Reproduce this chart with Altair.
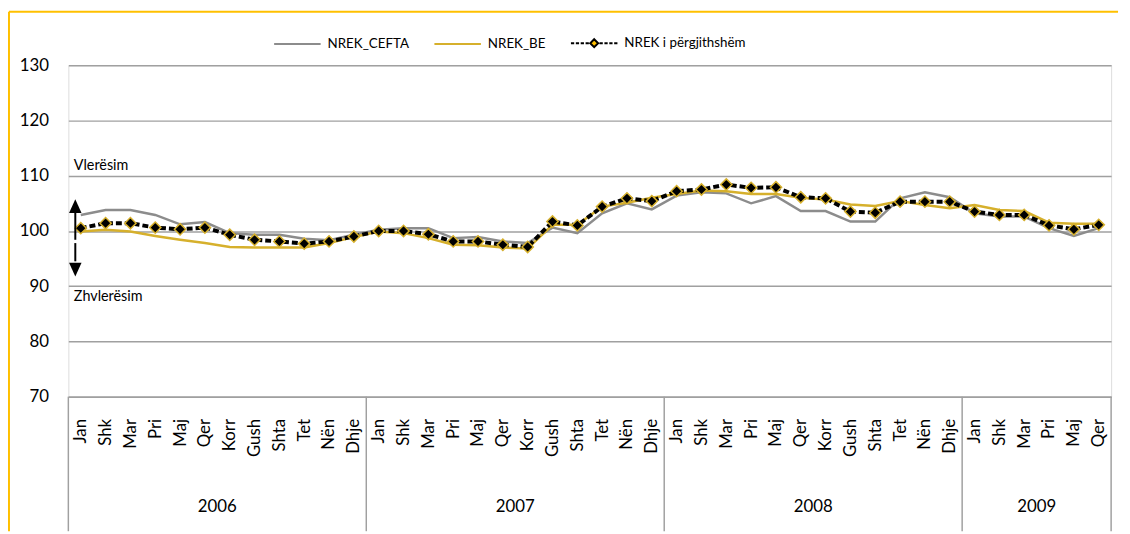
import altair as alt
import pandas as pd

# ---------------- data ----------------
months = ['Jan', 'Shk', 'Mar', 'Pri', 'Maj', 'Qer', 'Korr', 'Gush', 'Shta', 'Tet', 'Nën', 'Dhje']
years = ['2006', '2007', '2008', '2009']
year_months = [12, 12, 12, 6]

nrek_cefta = [102.9, 103.8, 103.8, 102.9, 101.2, 101.6, 99.6, 99.3, 99.3, 98.6, 98.3, 99.3,
              100.2, 100.5, 100.5, 98.7, 98.9, 98.1, 97.8, 100.6, 99.6, 103.2, 105.0, 103.9,
              106.4, 107.0, 106.8, 105.0, 106.3, 103.6, 103.6, 101.7, 101.7, 105.9, 107.0, 106.1,
              103.2, 102.6, 102.6, 100.5, 99.1, 100.5]
nrek_be = [99.9, 100.2, 99.9, 99.1, 98.4, 97.8, 97.1, 97.0, 97.0, 97.0, 97.8, 98.9,
           99.9, 99.6, 98.7, 97.5, 97.4, 97.0, 96.8, 101.1, 101.1, 104.4, 105.1, 106.0,
           106.7, 107.3, 107.2, 106.7, 106.7, 106.0, 105.7, 104.8, 104.5, 105.4, 104.7, 104.1,
           104.7, 103.8, 103.6, 101.5, 101.3, 101.3]
nrek_total = [100.5, 101.4, 101.4, 100.6, 100.3, 100.6, 99.3, 98.4, 98.1, 97.7, 98.1, 99.0,
              100.0, 100.0, 99.4, 98.1, 98.1, 97.5, 97.1, 101.7, 101.0, 104.4, 105.9, 105.4,
              107.2, 107.5, 108.4, 107.8, 107.9, 106.1, 105.9, 103.5, 103.3, 105.3, 105.3, 105.3,
              103.5, 102.9, 102.9, 101.0, 100.3, 101.1]
series_names = ['NREK_CEFTA', 'NREK_BE', 'NREK i përgjithshëm']
y_ticks = [70, 80, 90, 100, 110, 120, 130]

annot_text = ['Vlerësim', 'Zhvlerësim']
annot_x = [-0.28, -0.28]
annot_y = [111.8, 88.0]
arrow_x = -0.22
arrow_up = (98.4, 103.3, 104.5)    # shaft start, shaft end, head centre
arrow_down = (97.8, 94.5, 93.0)

# ---------------- styles ----------------
FONT = 'Lato'
GRAY = '#8C8C8C'
GOLD = '#D6B02C'
BORDER = '#FFC000'
GRID = '#A0A0A0'
AXIS_FS = 17
LEG_FS = 13.5
ANN_FS = 14.5

n = len(nrek_cefta)
idx = list(range(n))
rows = []
for name, vals in zip(series_names, [nrek_cefta, nrek_be, nrek_total]):
    for i, v in zip(idx, vals):
        rows.append({'idx': i, 'value': v, 'series': name})
long_df = pd.DataFrame(rows)

bounds = [-0.5]
for m in year_months:
    bounds.append(bounds[-1] + m)
sep_df = pd.DataFrame({'idx': bounds})
year_df = pd.DataFrame({'idx': [(a + b) / 2 for a, b in zip(bounds[:-1], bounds[1:])], 'year': years})
annot_df = pd.DataFrame({'idx': annot_x, 'value': annot_y, 'text': annot_text})
shaft_df = pd.DataFrame({'idx': [arrow_x, arrow_x], 'y1': [arrow_up[0], arrow_down[0]], 'y2': [arrow_up[1], arrow_down[1]]})
head_up_df = pd.DataFrame({'idx': [arrow_x], 'value': [arrow_up[2]]})
head_down_df = pd.DataFrame({'idx': [arrow_x], 'value': [arrow_down[2]]})
one = pd.DataFrame({'a': [0]})

W, H = 1054, 335

label_expr = '[' + ','.join("'%s'" % m for m in months) + '][datum.value % 12]'
xscale = alt.Scale(domain=[-0.5, n - 0.5], nice=False, zero=False)
xaxis = alt.Axis(values=idx, labelExpr=label_expr, labelAngle=270, labelPadding=22,
                 ticks=False, grid=False, domainColor=GRID, domainWidth=1.5, title=None,
                 labelFontSize=AXIS_FS, labelFont=FONT, labelColor='black', labelOverlap=False,
                 labelFlush=False)
yscale = alt.Scale(domain=[70, 130], nice=False, zero=False)
yaxis = alt.Axis(values=y_ticks, grid=True, gridColor=GRID, gridWidth=1.5, domain=False,
                 ticks=False, labelPadding=20, labelFontSize=AXIS_FS, labelFont=FONT,
                 labelColor='black', title=None)

X = alt.X('idx:Q', scale=xscale, axis=xaxis)
Y = alt.Y('value:Q', scale=yscale, axis=yaxis)

# border (frame of the chart)
border_left = alt.Chart(one).mark_rule(color=BORDER, strokeWidth=2).encode(
    x=alt.value(-60), y=alt.value(-54), y2=alt.value(471))
border_top = alt.Chart(one).mark_rule(color=BORDER, strokeWidth=2).encode(
    x=alt.value(-60), x2=alt.value(1061), y=alt.value(-54))

line_cefta = alt.Chart(long_df).transform_filter(alt.datum.series == series_names[0]).mark_line(
    color=GRAY, strokeWidth=2.5).encode(x=X, y=Y)
line_be = alt.Chart(long_df).transform_filter(alt.datum.series == series_names[1]).mark_line(
    color=GOLD, strokeWidth=2.5).encode(x=X, y=Y)
line_total = alt.Chart(long_df).transform_filter(alt.datum.series == series_names[2]).mark_line(
    color='black', strokeWidth=4, strokeDash=[6, 3]).encode(x=X, y=Y)
pts_total = alt.Chart(long_df).transform_filter(alt.datum.series == series_names[2]).mark_point(
    shape='diamond', filled=True, fill='black', stroke=GOLD, strokeWidth=1.5, size=130,
    opacity=1).encode(x=X, y=Y)

# legend built from an invisible point layer
path_line = 'M-1,0L1,0'
path_dash = ('M-1,0H-0.86M-0.79,0H-0.65M-0.58,0H-0.44M-0.37,0H-0.23'
             'M0.23,0H0.37M0.44,0H0.58M0.65,0H0.79M0.86,0H1'
             'M0,-0.17L0.17,0L0,0.17L-0.17,0Z')
leg = alt.Legend(orient='none', legendX=207, legendY=-47, direction='horizontal', title=None,
                 symbolSize=2209, symbolStrokeWidth=2, symbolOpacity=1, labelFontSize=LEG_FS,
                 labelFont=FONT, labelColor='black', labelOffset=6, columnPadding=21)
legend_layer = alt.Chart(long_df).mark_point(opacity=0, size=2209).encode(
    x=X, y=Y,
    shape=alt.Shape('series:N', scale=alt.Scale(domain=series_names, range=[path_line, path_line, path_dash]), legend=leg),
    stroke=alt.Stroke('series:N', scale=alt.Scale(domain=series_names, range=[GRAY, GOLD, 'black']), legend=leg),
    fill=alt.Fill('series:N', scale=alt.Scale(domain=series_names, range=['transparent', 'transparent', BORDER]), legend=leg),
)

annot = alt.Chart(annot_df).mark_text(align='left', baseline='middle', fontSize=ANN_FS, font=FONT,
                                      color='black').encode(x=X, y=Y, text='text:N')
shafts = alt.Chart(shaft_df).mark_rule(color='black', strokeWidth=2).encode(
    x=X, y=alt.Y('y1:Q', scale=yscale, axis=yaxis), y2='y2:Q')
head_up = alt.Chart(head_up_df).mark_point(shape='M0,-1L0.9,1L-0.9,1Z', filled=True, color='black',
                                           size=196, opacity=1).encode(x=X, y=Y)
head_down = alt.Chart(head_down_df).mark_point(shape='M0,1L0.9,-1L-0.9,-1Z', filled=True, color='black',
                                               size=196, opacity=1).encode(x=X, y=Y)

seps = alt.Chart(sep_df).mark_rule(color=GRID, strokeWidth=1.5).encode(
    x=X, y=alt.value(H), y2=alt.value(471))
year_text = alt.Chart(year_df).mark_text(baseline='middle', align='center', fontSize=AXIS_FS, font=FONT,
                                         color='black').encode(x=X, y=alt.value(447), text='year:N')

chart = alt.layer(
    border_left, border_top, seps,
    line_cefta, line_be, line_total, pts_total, legend_layer,
    annot, shafts, head_up, head_down, year_text,
).properties(width=W, height=H, padding=0, background='white').configure_view(stroke=None).configure(font=FONT)

chart.save('out.html', embed_options={'renderer': 'svg', 'actions': False})
